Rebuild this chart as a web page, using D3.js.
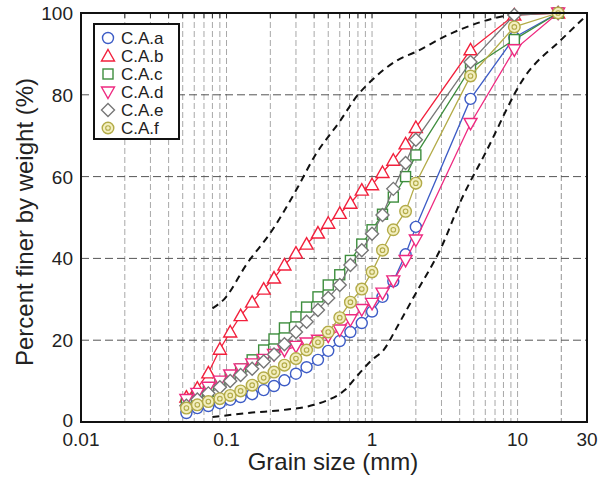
<!DOCTYPE html>
<html><head><meta charset="utf-8">
<script src="https://cdn.jsdelivr.net/npm/d3@7"></script>
<style>body{margin:0;background:#fff}svg{display:block}text{font-family:"Liberation Sans",Arial,sans-serif}</style>
</head><body><svg id="c" width="608" height="477"></svg>
<script>
const sieves = [0.053,0.063,0.075,0.09,0.106,0.125,0.15,0.18,0.212,0.25,0.3,0.355,0.425,0.5,0.6,0.71,0.85,1.0,1.18,1.4,1.7,2.0,4.75,9.5,19];
const seriesNames = ["C.A.a","C.A.b","C.A.c","C.A.d","C.A.e","C.A.f"];
const valuesA = [2.2,3.4,3.9,4.6,5.4,6.1,6.8,7.8,8.8,10.2,11.8,13.4,15.2,17.4,19.8,22,24.2,27,30.6,34.4,41,47.7,79,94,100];
const valuesB = [6.1,8.3,12,17.8,22,26,29.3,32.5,35.2,38.4,41.3,43.5,46.2,48.6,51,53.5,56.7,58,61,64,68,72,91,99.5,100];
const valuesC = [4.5,6,7.5,9.5,11,13,15.2,17.6,20.3,23,25.7,28.1,30.6,33.5,36,39.5,43.5,47,50.8,55,60,65.3,86.5,93.5,100];
const valuesD = [5.5,7,8.5,10,11.5,13,14.2,15.3,16.5,17.5,18.5,19.3,20,21,22.5,25,27.5,29,31.5,34.5,39.5,44.5,73,91,100];
const valuesE = [4,5.5,7,8.5,10,11.5,13,14.8,16.5,19,22,24.5,27.4,30.3,33.5,38.4,42,46,50.6,57,63.3,69,88,99.5,100];
const valuesF = [3.4,4.2,5,5.7,6.5,7.6,9,10.8,12.2,13.9,15.5,17.6,19.5,22,25.5,29.3,32.5,36.7,42,47,51.5,58.4,84.6,96.6,100];
const upperSize = [0.08,0.095,0.14,0.2,0.31,0.4,0.6,0.8,1.0,1.5,2,3.3,5.6,9.5];
const upperPct  = [27.8,29.8,39,46.2,57.5,64.8,73.5,80,83.6,88.5,90.5,94.6,97.8,99.8];
const lowerSize = [0.08,0.15,0.24,0.4,0.5,0.65,0.8,1.0,1.2,1.5,2,3,4.1,6,11.2,20,30];
const lowerPct  = [1.2,2.3,2.9,4.2,5.4,7.8,11.5,15.2,17.6,23.5,31.5,42.8,54.3,65.7,84.4,93.5,99.5];
const xTicks = [0.01,0.1,1,10,30];
const yTicks = [0,20,40,60,80,100];

const svg = d3.select("#c");
const L=81,R=587,T=13,B=422;
const x = d3.scaleLog().domain([0.01,30]).range([L,R]);
const y = d3.scaleLinear().domain([0,100]).range([B,T]);

// grid
const minor = [];
[0.01,0.1,1,10].forEach(d=>{for(let k=1;k<=9;k++){const v=d*k; if(v>0.01&&v<30) minor.push(v);}});
minor.push(20);
svg.append("g").selectAll("line").data(minor).join("line")
 .attr("x1",d=>x(d)).attr("x2",d=>x(d)).attr("y1",T).attr("y2",B)
 .attr("stroke","#a8a8a8").attr("stroke-width",1).attr("stroke-dasharray","6,3");
svg.append("g").selectAll("line").data([20,40,60,80]).join("line")
 .attr("x1",L).attr("x2",R).attr("y1",d=>y(d)).attr("y2",d=>y(d))
 .attr("stroke","#555").attr("stroke-width",1).attr("stroke-dasharray","8,4");
svg.append("g").selectAll("line").data(minor).join("line")
 .attr("x1",d=>x(d)).attr("x2",d=>x(d)).attr("y1",T).attr("y2",T+5)
 .attr("stroke","#333").attr("stroke-width",1);

// envelopes
const env = d3.line().x(d=>x(d[0])).y(d=>y(d[1])).curve(d3.curveMonotoneX);
[[upperSize,upperPct],[lowerSize,lowerPct]].forEach(([s,p])=>{
  svg.append("path").attr("d",env(s.map((v,i)=>[v,p[i]])))
   .attr("fill","none").attr("stroke","#111").attr("stroke-width",2).attr("stroke-dasharray","7,5");
});

const colors = ["#3d5cc6","#f2203c","#3e8e3e","#ee2a80","#777777","#b3ab48"];
const shapes = ["circle","tri","square","tridown","diamond","dcircle"];
const allVals = [valuesA,valuesB,valuesC,valuesD,valuesE,valuesF];
function marker(g,shape,color,cx,cy){
  const sw=1.4;
  if(shape==="circle") g.append("circle").attr("cx",cx).attr("cy",cy).attr("r",5.5).attr("fill","#fff").attr("stroke",color).attr("stroke-width",sw);
  else if(shape==="dcircle"){
    g.append("circle").attr("cx",cx).attr("cy",cy).attr("r",5.8).attr("fill","#f3efc0").attr("stroke",color).attr("stroke-width",sw);
    g.append("circle").attr("cx",cx).attr("cy",cy).attr("r",2.3).attr("fill","#f3efc0").attr("stroke",color).attr("stroke-width",1.1);
  }
  else if(shape==="square") g.append("rect").attr("x",cx-5).attr("y",cy-5).attr("width",10).attr("height",10).attr("fill","#fff").attr("stroke",color).attr("stroke-width",sw);
  else if(shape==="tri") g.append("path").attr("d",`M${cx},${cy-6.5}L${cx+6.5},${cy+5}L${cx-6.5},${cy+5}Z`).attr("fill","#fff").attr("stroke",color).attr("stroke-width",sw);
  else if(shape==="tridown") g.append("path").attr("d",`M${cx},${cy+6.5}L${cx+6.5},${cy-5}L${cx-6.5},${cy-5}Z`).attr("fill","#fff").attr("stroke",color).attr("stroke-width",sw);
  else if(shape==="diamond") g.append("path").attr("d",`M${cx},${cy-6.5}L${cx+6.5},${cy}L${cx},${cy+6.5}L${cx-6.5},${cy}Z`).attr("fill","#fff").attr("stroke",color).attr("stroke-width",sw);
}
const line = d3.line().x(d=>x(d[0])).y(d=>y(d[1]));
allVals.forEach((vals,i)=>{
  const g = svg.append("g");
  const pts = sieves.map((s,j)=>[s,vals[j]]);
  g.append("path").attr("d",line(pts)).attr("fill","none").attr("stroke",colors[i]).attr("stroke-width",1.3);
  pts.forEach(p=>marker(g,shapes[i],colors[i],x(p[0]),y(p[1])));
});

// frame
svg.append("rect").attr("x",L).attr("y",T).attr("width",R-L).attr("height",B-T).attr("fill","none").attr("stroke","#111").attr("stroke-width",2);

// axes labels
svg.append("g").selectAll("text").data(xTicks).join("text")
 .attr("x",d=>x(d)).attr("y",446).attr("text-anchor","middle").attr("font-size",19).attr("fill","#222")
 .text(d=>String(d));
svg.append("g").selectAll("text").data(yTicks).join("text")
 .attr("x",73).attr("y",d=>d===0?y(d)+5:y(d)+7).attr("text-anchor","end").attr("font-size",19).attr("fill","#222")
 .text(d=>String(d));
svg.append("text").attr("x",333).attr("y",470).attr("text-anchor","middle").attr("font-size",24).attr("fill","#222").text("Grain size (mm)");
svg.append("text").attr("transform","translate(33,222) rotate(-90)").attr("text-anchor","middle").attr("font-size",24).attr("fill","#222").text("Percent finer by weight (%)");

// legend
const lg = svg.append("g");
lg.append("rect").attr("x",94).attr("y",24).attr("width",85).attr("height",115).attr("fill","#fff").attr("stroke","#111").attr("stroke-width",2);
seriesNames.forEach((n,i)=>{
  const cy = 38+i*18;
  marker(lg,shapes[i],colors[i],108,cy);
  lg.append("text").attr("x",121).attr("y",cy+6).attr("font-size",17).attr("fill","#222").text(n);
});
</script></body></html>
